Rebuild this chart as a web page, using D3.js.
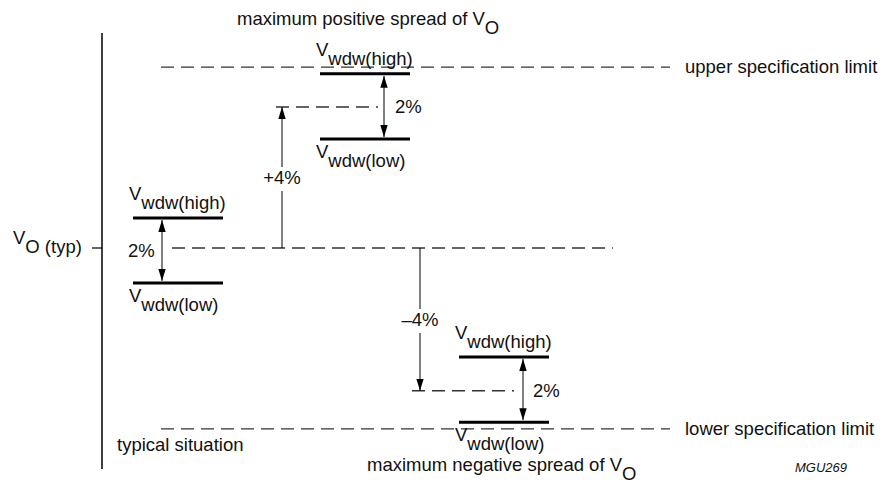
<!DOCTYPE html>
<html>
<head>
<meta charset="utf-8">
<script src="https://cdn.jsdelivr.net/npm/d3@7"></script>
<style>
  body { margin: 0; background: #fff; }
  text { font-family: "Liberation Sans", Arial, sans-serif; fill: #111; }
</style>
</head>
<body>
<script>
// values in % relative to V_O(typ)
const situations = ["typical", "positive", "negative"];
const windowHigh = [0.85, 4.94, -3.09];
const windowLow = [-0.99, 3.09, -4.94];
const windowLabel = "2%";
const shiftValues = [4, -4.05];
const shiftLabels = ["+4%", "\u20134%"];
const specLimits = [5.13, -5.13];
const specLabels = ["upper specification limit", "lower specification limit"];

const W = 885, H = 490;
const svg = d3.select("body").append("svg").attr("width", W).attr("height", H);

const y = d3.scaleLinear().domain([-4, 4]).range([389, 107]);
const fs = 18.5;

// layout (bar start x, bar length, double arrow x, label side)
const barX = { typical: 133, positive: 320, negative: 459 };
const barLen = 90;
const arrowX = { typical: 162, positive: 384, negative: 523 };
const pctX = { typical: 128, positive: 395, negative: 533 };

const defs = svg.append("defs");
defs.append("marker").attr("id", "head")
  .attr("viewBox", "0 0 12 12").attr("refX", 12).attr("refY", 6)
  .attr("markerWidth", 12).attr("markerHeight", 12)
  .attr("markerUnits", "userSpaceOnUse").attr("orient", "auto-start-reverse")
  .append("path").attr("d", "M0,2.3 L12,6 L0,9.7 Z").attr("fill", "#000");

function vText(g, x, yb, sub, size) {
  const t = g.append("text").attr("x", x).attr("y", yb).attr("font-size", size || fs);
  t.append("tspan").text("V");
  t.append("tspan").attr("dy", 9).text(sub);
  return t;
}

// vertical axis + typ tick
svg.append("line").attr("x1", 102).attr("x2", 102).attr("y1", 33).attr("y2", 469)
  .attr("stroke", "#000").attr("stroke-width", 1.5);
svg.append("line").attr("x1", 92).attr("x2", 102).attr("y1", y(0)).attr("y2", y(0))
  .attr("stroke", "#000").attr("stroke-width", 1.2);
vText(svg, 13, y(0) - 4, "O (typ)");

const dash = "13,7";
const dashColor = "#333";

// spec limits
specLimits.forEach((v, i) => {
  svg.append("line").attr("x1", 161).attr("x2", 670).attr("y1", y(v)).attr("y2", y(v))
    .attr("stroke", dashColor).attr("stroke-width", 1.4).attr("stroke-dasharray", dash);
  svg.append("text").attr("x", 685).attr("y", y(v) + 6).attr("font-size", fs).text(specLabels[i]);
});

// typical dashed line
svg.append("line").attr("x1", 172).attr("x2", 613).attr("y1", y(0)).attr("y2", y(0))
  .attr("stroke", dashColor).attr("stroke-width", 1.4).attr("stroke-dasharray", dash);

// shift arrows
const shiftX = [282, 420];
const shiftDash = [[276, 378], [412, 514]];
const shiftLabelY = [184, 326];
shiftValues.forEach((v, i) => {
  svg.append("line").attr("x1", shiftDash[i][0]).attr("x2", shiftDash[i][1])
    .attr("y1", y(v)).attr("y2", y(v))
    .attr("stroke", dashColor).attr("stroke-width", 1.4).attr("stroke-dasharray", dash);
  svg.append("line").attr("x1", shiftX[i]).attr("x2", shiftX[i])
    .attr("y1", y(0)).attr("y2", y(v))
    .attr("stroke", "#000").attr("stroke-width", 1).attr("marker-end", "url(#head)");
  svg.append("rect").attr("x", shiftX[i] - 20).attr("y", shiftLabelY[i] - 17)
    .attr("width", 40).attr("height", 24).attr("fill", "#fff");
  svg.append("text").attr("x", shiftX[i]).attr("y", shiftLabelY[i]).attr("text-anchor", "middle")
    .attr("font-size", fs).text(shiftLabels[i]);
});

// windows
situations.forEach((s, i) => {
  const yh = y(windowHigh[i]), yl = y(windowLow[i]);
  [yh, yl].forEach(yy => {
    svg.append("line").attr("x1", barX[s]).attr("x2", barX[s] + barLen)
      .attr("y1", yy).attr("y2", yy).attr("stroke", "#000").attr("stroke-width", 3);
  });
  svg.append("line").attr("x1", arrowX[s]).attr("x2", arrowX[s])
    .attr("y1", yh + 2).attr("y2", yl - 2)
    .attr("stroke", "#000").attr("stroke-width", 1)
    .attr("marker-start", "url(#head)").attr("marker-end", "url(#head)");
  svg.append("text").attr("x", pctX[s]).attr("y", (yh + yl) / 2 + 7)
    .attr("font-size", fs).text(windowLabel);
  vText(svg, barX[s] - 4, yh - 18, "wdw(high)");
  vText(svg, barX[s] - 4, yl + 19, "wdw(low)");
});

// titles
vText(svg, 237, 25, "O").select("tspan").text("maximum positive spread of V");
vText(svg, 367, 471, "O").select("tspan").text("maximum negative spread of V");
svg.append("text").attr("x", 117).attr("y", 451).attr("font-size", fs).text("typical situation");
svg.append("text").attr("x", 795).attr("y", 472).attr("font-size", 13)
  .attr("font-style", "italic").text("MGU269");
</script>
</body>
</html>
